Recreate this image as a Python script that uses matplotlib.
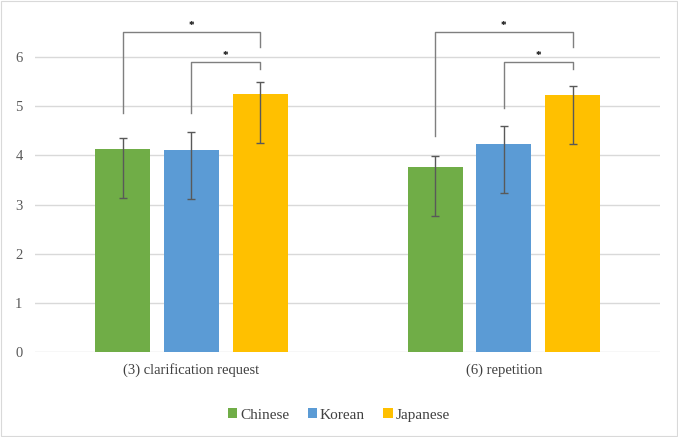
import matplotlib.pyplot as plt
import matplotlib.patches as patches
import numpy as np

plt.rcParams['font.family'] = ['Liberation Serif', 'DejaVu Serif']

categories = ['(3) clarification request', '(6) repetition']
groups = ['Chinese', 'Korean', 'Japanese']
colors = ['#70AD47', '#5B9BD5', '#FFC000']

means = {
    'Chinese': [4.13, 3.77],
    'Korean': [4.12, 4.24],
    'Japanese': [5.26, 5.22],
}
err_low = {
    'Chinese': [1.00, 1.01],
    'Korean': [1.00, 1.00],
    'Japanese': [1.01, 0.99],
}
err_high = {
    'Chinese': [0.23, 0.22],
    'Korean': [0.36, 0.35],
    'Japanese': [0.23, 0.19],
}

# significance brackets: (category, from group, to group, bracket height, left leg end, right leg end)
brackets = [
    (0, 0, 2, 6.51, 4.86, 6.20),
    (0, 1, 2, 5.90, 4.86, 5.75),
    (1, 0, 2, 6.51, 4.39, 6.20),
    (1, 1, 2, 5.90, 4.97, 5.75),
]

fig = plt.figure(figsize=(6.78, 4.37), dpi=100)
fig.patches.append(patches.Rectangle((0.002, 0.002), 0.996, 0.996, transform=fig.transFigure,
                                     fill=False, edgecolor='#d9d9d9', linewidth=0.8))
ax = fig.add_axes([35 / 678, (437 - 352) / 437, 625 / 678, 344 / 437])

x = np.arange(len(categories))
width = 0.176
step = 0.22
for i, g in enumerate(groups):
    pos = x + (i - 1) * step
    ax.bar(pos, means[g], width, color=colors[i], label=g, zorder=3)
    ax.errorbar(pos, means[g], yerr=[err_low[g], err_high[g]], fmt='none',
                ecolor='#595959', elinewidth=1, capsize=3, capthick=1, zorder=4)

for c, a, b, h, la, lb in brackets:
    xa = c + (a - 1) * step
    xb = c + (b - 1) * step
    ax.plot([xa, xa, xb, xb], [la, h, h, lb], color='#7f7f7f', linewidth=1,
            zorder=5, clip_on=False)
    ax.text((xa + xb) / 2, h + 0.04, '*', ha='center', va='bottom', fontsize=8,
            fontweight='bold', color='black')

ax.set_xlim(-0.5, 1.5)
ax.set_ylim(0, 7)
ax.set_yticks(range(0, 7))
ax.set_xticks(x)
ax.set_xticklabels(categories, fontsize=10.5, color='#404040')
ax.tick_params(axis='y', labelsize=10.5, labelcolor='#595959', length=0, pad=9)
ax.tick_params(axis='x', length=0, pad=8)
ax.yaxis.grid(True, color='#d9d9d9', linewidth=1, zorder=0)
ax.set_axisbelow(True)
for s in ax.spines.values():
    s.set_visible(False)

leg = fig.legend(loc='center', bbox_to_anchor=(0.5, (437 - 415) / 437), ncol=3, frameon=False,
                 fontsize=11, handlelength=0.6, handleheight=0.6, handletextpad=0.2,
                 columnspacing=1.2)
for t in leg.get_texts():
    t.set_color('#404040')

fig.savefig('out.png', dpi=100)
